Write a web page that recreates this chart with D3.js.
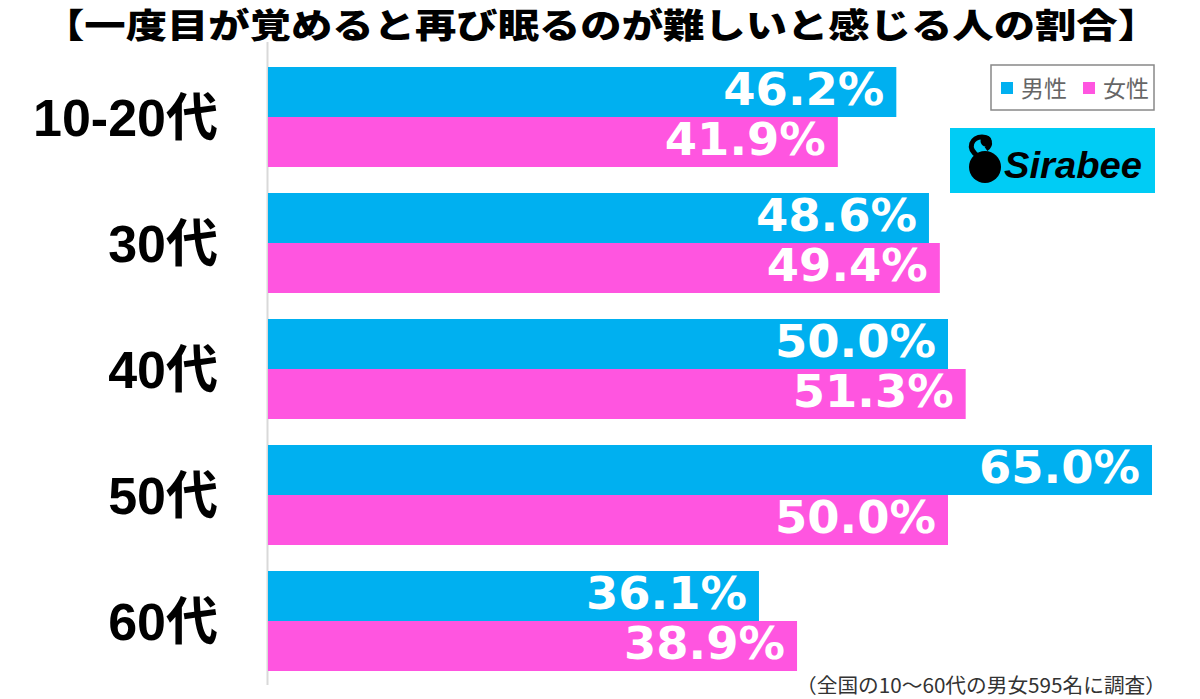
<!DOCTYPE html>
<html><head><meta charset="utf-8">
<script src="https://cdn.jsdelivr.net/npm/d3@7"></script>
<style>body{margin:0;background:#fff}svg{display:block}</style>
</head><body>
<svg id="c" width="1200" height="699"></svg>
<script>
const categories = ["10-20代","30代","40代","50代","60代"];
const seriesNames = ["男性","女性"];
const maleValues = [46.2,48.6,50.0,65.0,36.1];
const femaleValues = [41.9,49.4,51.3,50.0,38.9];
const colors = ["#00B0F0","#FF55E0"];
const title = "【一度目が覚めると再び眠るのが難しいと感じる人の割合】";
const footnote = "（全国の10〜60代の男女595名に調査）";

const svg = d3.select("#c");
const x = d3.scaleLinear().domain([0,65]).range([268,1152]);
const y0 = d3.scaleBand().domain(categories).range([67,671]).paddingInner(26/126).paddingOuter(0);
const y1 = d3.scaleBand().domain(seriesNames).range([0,y0.bandwidth()]);

const data = categories.map((c,i)=>({cat:c, vals:[maleValues[i],femaleValues[i]]}));

// title
svg.append("text").attr("x",601).attr("y",38).attr("text-anchor","middle")
  .attr("font-family","'Noto Sans CJK JP'").attr("font-weight",900).attr("font-size",34)
  .attr("textLength",1116).attr("lengthAdjust","spacingAndGlyphs").text(title);

// axis line
svg.append("line").attr("x1",267.5).attr("x2",267.5).attr("y1",42).attr("y2",685)
  .attr("stroke","#d9d9d9").attr("stroke-width",2);

const g = svg.selectAll("g.grp").data(data).join("g").attr("transform",d=>`translate(0,${y0(d.cat)})`);
g.selectAll("rect").data(d=>d.vals.map((v,j)=>({v,s:seriesNames[j],j}))).join("rect")
  .attr("x",x(0)).attr("y",d=>y1(d.s)).attr("width",d=>x(d.v)-x(0)).attr("height",y1.bandwidth())
  .attr("fill",d=>colors[d.j]);
g.selectAll("text.val").data(d=>d.vals.map((v,j)=>({v,s:seriesNames[j],j}))).join("text")
  .attr("class","val").attr("x",d=>x(d.v)-12).attr("y",d=>y1(d.s)+y1.bandwidth()/2+13)
  .attr("text-anchor","end").attr("fill","#fff").attr("font-family","'DejaVu Sans',sans-serif")
  .attr("font-weight","bold").attr("font-size",44)
  .attr("textLength",161).attr("lengthAdjust","spacingAndGlyphs").text(d=>d.v.toFixed(1)+"%");

// category labels
svg.selectAll("text.cat").data(categories).join("text").attr("class","cat")
  .attr("x",218).attr("y",d=>y0(d)+y0.bandwidth()/2+19).attr("text-anchor","end")
  .attr("font-family","'Liberation Sans','Noto Sans CJK JP'").attr("font-weight","bold")
  .attr("font-size",52).text(d=>d);

// legend
const lg = svg.append("g");
lg.append("rect").attr("x",991).attr("y",65).attr("width",163).attr("height",45)
  .attr("fill","#fff").attr("stroke","#888").attr("stroke-width",1.5);
const legX = [1001,1083];
seriesNames.forEach((s,i)=>{
  const lx = legX[i];
  lg.append("rect").attr("x",lx).attr("y",82).attr("width",12).attr("height",12).attr("fill",colors[i]);
  lg.append("text").attr("x",lx+20).attr("y",97).attr("font-family","'Noto Sans CJK JP'")
    .attr("font-size",23).attr("fill","#666").text(s);
});

// logo
const logo = svg.append("g");
logo.append("rect").attr("x",950).attr("y",128).attr("width",205).attr("height",65).attr("fill","#00CCF5");
logo.append("circle").attr("cx",985).attr("cy",167).attr("r",16).attr("fill","#000");
logo.append("path").attr("d","M978,156 C966,148 972,137 982,137 C990,137 992,145 986,149")
  .attr("fill","none").attr("stroke","#000").attr("stroke-width",5);
logo.append("circle").attr("cx",986).attr("cy",141).attr("r",5.5).attr("fill","#000");
logo.append("text").attr("x",1004).attr("y",178).attr("font-family","'Liberation Sans',Arial")
  .attr("font-weight","bold").attr("font-style","italic").attr("font-size",36).attr("fill","#000")
  .attr("textLength",138).attr("lengthAdjust","spacingAndGlyphs").text("Sirabee");

// footnote
svg.append("text").attr("x",1166).attr("y",693).attr("text-anchor","end")
  .attr("font-family","'Noto Sans CJK JP'").attr("font-size",20).attr("fill","#333")
  .attr("textLength",370).attr("lengthAdjust","spacingAndGlyphs").text(footnote);
</script>
</body></html>
